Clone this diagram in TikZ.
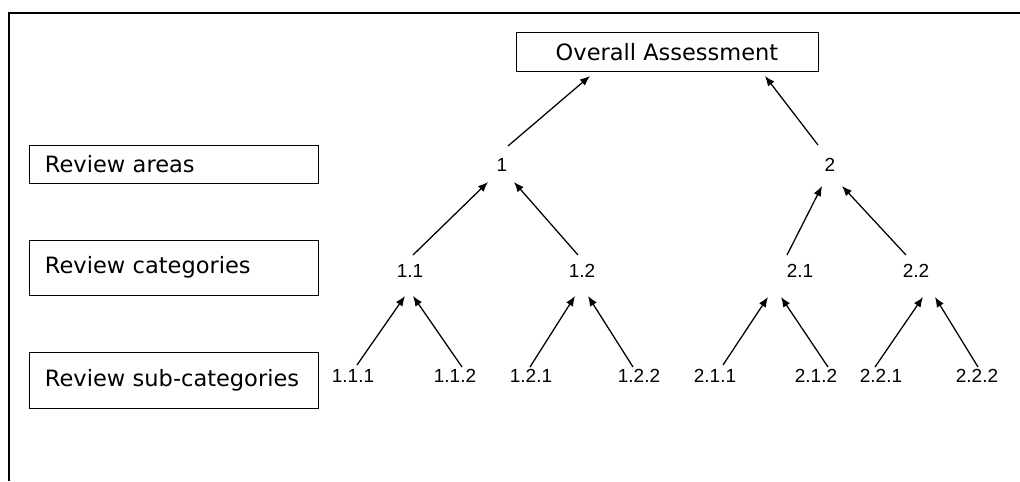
\documentclass[tikz,border=0pt]{standalone}
\usepackage{fontspec}
\setmainfont{DejaVu Sans}
\newfontfamily\numfont{Liberation Sans}
\usetikzlibrary{arrows.meta,calc}

\begin{document}
\begin{tikzpicture}[x=0.025cm,y=-0.025cm,arr/.style={-{Latex[length=2.5mm,width=2mm]},line width=0.9pt}]
  \tikzstyle{rowbox}=[draw,line width=0.6pt,inner ysep=0pt,inner xsep=0.4cm,text width=6.425cm,align=left,font=\fontsize{16}{19}\selectfont]
  \tikzstyle{goal}=[draw,line width=0.6pt,minimum width=7.55cm,minimum height=0.975cm,font=\fontsize{16}{19}\selectfont]
  \tikzstyle{lab}=[inner sep=0pt,font=\numfont\fontsize{13.5}{16}\selectfont]

  \useasboundingbox (0,0) rectangle (1020,481);
  \draw[line width=0.8pt] (9,481) -- (9,13) -- (1020,13);

  % left column
  \node[rowbox,minimum height=0.95cm]  (areas) at (173.5,164) {Review areas};
  \node[rowbox,minimum height=1.375cm] (cats)  at (173.5,267.5) {Review categories};
  \node[rowbox,minimum height=1.4cm]   (subs)  at (173.5,380) {Review sub-categories};

  % tree
  \node[goal] (all) at (667,52) {Overall Assessment};

  \node[lab] (n1) at (502,165) {1};
  \node[lab] (n2) at (830,165) {2};

  \node[lab] (n11) at (410,271) {1.1};
  \node[lab] (n12) at (582,271) {1.2};
  \node[lab] (n21) at (800,271) {2.1};
  \node[lab] (n22) at (916,271) {2.2};

  \node[lab] (n111) at (353,376) {1.1.1};
  \node[lab] (n112) at (455,376) {1.1.2};
  \node[lab] (n121) at (531,376) {1.2.1};
  \node[lab] (n122) at (639,376) {1.2.2};
  \node[lab] (n211) at (715,376) {2.1.1};
  \node[lab] (n212) at (816,376) {2.1.2};
  \node[lab] (n221) at (881,376) {2.2.1};
  \node[lab] (n222) at (977,376) {2.2.2};

  \path[arr]
  ($(n1)+(6,-19)$)    edge ($(all)+(-77,24)$)
  ($(n2)+(-12,-20)$)  edge ($(all)+(98,24)$)
  ($(n11)+(3,-16)$)   edge ($(n1)+(-14,17)$)
  ($(n12)+(-4,-16)$)  edge ($(n1)+(12,17)$)
  ($(n21)+(-13,-16)$) edge ($(n2)+(-8,21)$)
  ($(n22)+(-10,-16)$) edge ($(n2)+(12,21)$)
  ($(n111)+(4,-11)$)  edge ($(n11)+(-5,25)$)
  ($(n112)+(7,-9)$)   edge ($(n11)+(3,25)$)
  ($(n121)+(-1,-9)$)  edge ($(n12)+(-7,25)$)
  ($(n122)+(-6,-9)$)  edge ($(n12)+(6,25)$)
  ($(n211)+(8,-11)$)  edge ($(n21)+(-32,26)$)
  ($(n212)+(12,-9)$)  edge ($(n21)+(-19,26)$)
  ($(n221)+(-6,-9)$)  edge ($(n22)+(7,26)$)
  ($(n222)+(1,-9)$)   edge ($(n22)+(19,26)$);
\end{tikzpicture}
\end{document}
